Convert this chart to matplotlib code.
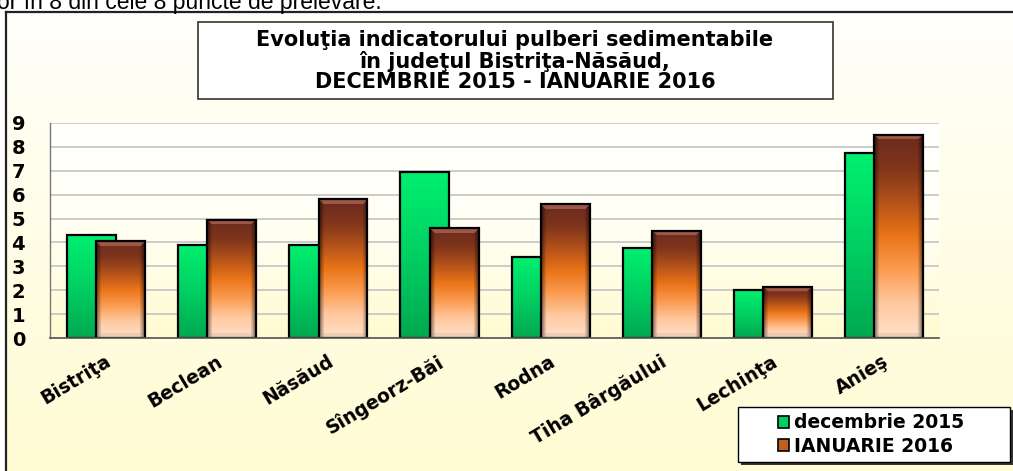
import numpy as np
import matplotlib
matplotlib.use('Agg')
import matplotlib.pyplot as plt
from matplotlib.patches import Rectangle, Patch
from matplotlib.colors import LinearSegmentedColormap, to_rgb
import matplotlib.transforms as mtransforms

plt.rcParams['font.family'] = ['DejaVu Sans']

# data
locations = ['Bistriţa', 'Beclean', 'Năsăud', 'Sîngeorz-Băi', 'Rodna',
             'Tiha Bârgăului', 'Lechinţa', 'Anieş']
dec_2015 = [4.3, 3.9, 3.9, 6.95, 3.4, 3.75, 2.0, 7.75]
ian_2016 = [4.05, 4.95, 5.8, 4.6, 5.6, 4.5, 2.15, 8.5]
yticks = list(range(0, 10))

W, H = 1013, 471
fig = plt.figure(figsize=(W / 100, H / 100), dpi=100)
fig.patch.set_facecolor('white')


def vgrad(stops, n=256):
    cm = LinearSegmentedColormap.from_list('g', stops)
    return cm(np.linspace(0, 1, n))[:, :3]


def brown_img(nv, nh, b=5):
    # vertical gradient with a simple bevel (top light band, dark sides)
    col = vgrad(['#6a2a1e', '#80351c', '#b4521a', '#ea7418', '#fb9c52',
                 '#ffc9a0', '#ffe0c8'], nv)
    img = np.repeat(col[:, None, :], nh, axis=1)
    cx = np.arange(nh)
    d = np.minimum(cx, nh - 1 - cx)
    side = np.clip(d / b, 0, 1)
    img = img * (0.5 + 0.5 * side)[None, :, None]
    for r in range(min(b, nv)):
        m = (cx >= r) & (cx <= nh - 1 - r)
        img[r, m] = img[r, m] * 0.45 + np.array(to_rgb('#c87a68')) * 0.55
    for r in range(max(nv - b, 0), nv):
        rr = nv - 1 - r
        m = (cx >= rr) & (cx <= nh - 1 - rr)
        img[r, m] = img[r, m] * 0.8 + np.array(to_rgb('#a89080')) * 0.2
    return np.clip(img, 0, 1)


# outer frame with cream gradient
bg = fig.add_axes([6 / W, 0, 1 - 6 / W + 0.01, (H - 12) / H])
col = vgrad(['#fffffa', '#fffde6', '#fffcd4'])
bg.imshow(col[:, None, :], aspect='auto', extent=[0, 1, 0, 1])
bg.set_xlim(0, 1)
bg.set_ylim(0, 1)
bg.set_xticks([])
bg.set_yticks([])
for s in ['right', 'bottom']:
    bg.spines[s].set_visible(False)
for s in ['left', 'top']:
    bg.spines[s].set_linewidth(1.6)
    bg.spines[s].set_color('#222222')

# cut-off line of text above the chart
fig.text(-3 / W, 1 - 9 / H, 'or în 8 din cele 8 puncte de prelevare.',
         fontsize=16.5, fontweight='normal', ha='left', va='baseline',
         family='Liberation Sans')

# title box
fig.add_artist(Rectangle((198 / W, 1 - 99 / H), (833 - 198) / W, 77 / H,
                         transform=fig.transFigure, facecolor='white',
                         edgecolor='#333333', lw=1.2))
fig.text(515 / W, 1 - 61 / H,
         'Evoluţia indicatorului pulberi sedimentabile\n'
         'în judeţul Bistriţa-Năsăud,\n'
         'DECEMBRIE 2015 - IANUARIE 2016',
         ha='center', va='center', fontsize=15, fontweight='bold',
         linespacing=1.0)

ax = fig.add_axes([50 / W, 1 - 338 / H, (939 - 50) / W, (338 - 123) / H])
ax.set_facecolor('none')
pg = vgrad(['#ffffff', '#fffff2', '#fffbd0'])
ax.imshow(pg[:, None, :], aspect='auto', extent=[0, 1, 0, 1],
          transform=ax.transAxes, zorder=0)
ax.set_xlim(-0.5, len(locations) - 0.5)
ax.set_ylim(0, 9)

x = np.arange(len(locations))
wbar = 0.44
b1 = ax.bar(x - 0.127, dec_2015, wbar, facecolor='none', edgecolor='black',
            lw=1.6, zorder=3)
b2 = ax.bar(x + 0.137, ian_2016, wbar, facecolor='none', edgecolor='black',
            lw=1.6, zorder=5)

green = vgrad(['#00f070', '#00d062', '#00a850'])[:, None, :]
green = np.repeat(green, 4, axis=1)

for bars, z in [(b1, 2), (b2, 4)]:
    for p in bars:
        x0, y0 = p.get_x(), p.get_y()
        x1, y1 = x0 + p.get_width(), y0 + p.get_height()
        if bars is b1:
            im = green
        else:
            (px0, py0), (px1, py1) = ax.transData.transform([(x0, y0), (x1, y1)])
            im = brown_img(max(int(abs(py1 - py0)), 2), max(int(abs(px1 - px0)), 2))
        gi = ax.imshow(im, aspect='auto', interpolation='bilinear',
                       extent=[x0, x1, y0, y1], zorder=z)
        gi.set_clip_path(p)

ax.set_xlim(-0.5, len(locations) - 0.5)
ax.set_ylim(0, 9)
ax.set_yticks(yticks)
ax.yaxis.grid(True, color='#c4c4c4', lw=1.2)
ax.set_axisbelow(True)
ax.tick_params(axis='y', length=0, pad=18, labelsize=14)
ax.tick_params(axis='x', length=0, pad=10)
for s in ['top', 'right']:
    ax.spines[s].set_visible(False)
ax.spines['left'].set_color('#777777')
ax.spines['bottom'].set_color('#555555')
ax.spines['left'].set_linewidth(1.0)
ax.spines['bottom'].set_linewidth(1.2)
ax.spines['bottom'].set_zorder(6)

ax.set_xticks(x)
ax.set_xticklabels(locations, rotation=31, ha='right', va='top',
                   rotation_mode='anchor', fontsize=13.5, fontweight='bold')
off = mtransforms.ScaledTranslation(-1 / 100, 0, fig.dpi_scale_trans)
for lb in ax.get_xticklabels():
    lb.set_transform(lb.get_transform() + off)
for lb in ax.get_yticklabels():
    lb.set_fontweight('bold')

# legend box with shadow
lx0, lx1, ly0, ly1 = 738, 1010, 407, 462
fig.add_artist(Rectangle(((lx0 + 3) / W, 1 - (ly1 + 3) / H), (lx1 - lx0) / W,
                         (ly1 - ly0) / H, transform=fig.transFigure,
                         facecolor='#333333', edgecolor='none'))
fig.add_artist(Rectangle((lx0 / W, 1 - ly1 / H), (lx1 - lx0) / W,
                         (ly1 - ly0) / H, transform=fig.transFigure,
                         facecolor='white', edgecolor='black', lw=1.0))
handles = [Patch(facecolor='#00d062', edgecolor='black', lw=1.2),
           Patch(facecolor='#c0601e', edgecolor='black', lw=1.2)]
leg = fig.legend(handles, ['decembrie 2015', 'IANUARIE 2016'],
                 loc='center', bbox_to_anchor=((lx0 + lx1) / 2 / W - 3 / W,
                                               1 - (ly0 + ly1) / 2 / H),
                 prop={'weight': 'bold', 'size': 13.5}, frameon=False,
                 handlelength=0.6, handleheight=0.6, handletextpad=0.25,
                 borderpad=0.2, labelspacing=0.25, borderaxespad=0)

fig.savefig('out.png', dpi=100)
